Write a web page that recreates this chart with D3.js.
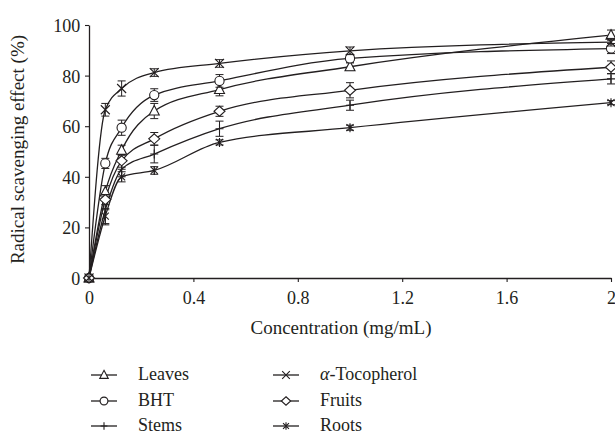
<!DOCTYPE html>
<html>
<head>
<meta charset="utf-8">
<script src="https://cdn.jsdelivr.net/npm/d3@7"></script>
<style>
  body { margin: 0; background: #fff; }
  svg text { font-family: "Liberation Serif", "DejaVu Serif", serif; fill: #231f20; }
</style>
</head>
<body>
<svg id="chart" width="615" height="436"></svg>
<script>
// concentrations (mg/mL)
const conc = [0, 0.0625, 0.125, 0.25, 0.5, 1, 2];

// scavenging effect (%) per sample
const leaves     = [0, 34.0, 50.5, 66.0, 74.5, 83.5, 96.0];
const bht        = [0, 45.3, 59.4, 72.3, 77.9, 86.8, 90.7];
const stems      = [0, 27.0, 43.0, 49.0, 59.0, 68.3, 78.7];
const tocopherol = [0, 66.5, 74.9, 81.2, 84.8, 89.8, 93.2];
const fruits     = [0, 31.0, 46.3, 55.0, 65.9, 74.2, 83.3];
const roots      = [0, 24.5, 40.0, 42.5, 53.6, 59.4, 69.3];

// error bar half-widths
const leavesErr     = [0, 2.5, 2.0, 3.0, 2.5, 1.5, 2.0];
const bhtErr        = [0, 2.0, 3.0, 2.5, 2.5, 1.5, 2.0];
const stemsErr      = [0, 6.0, 3.0, 3.5, 3.0, 2.0, 2.0];
const tocopherolErr = [0, 2.5, 3.0, 1.5, 1.5, 1.5, 1.5];
const fruitsErr     = [0, 2.0, 2.5, 2.5, 2.0, 3.0, 2.5];
const rootsErr      = [0, 3.0, 2.0, 1.5, 1.0, 1.0, 0.8];

const xTicks = [0, 0.4, 0.8, 1.2, 1.6, 2];
const xTickLabels = ["0", "0.4", "0.8", "1.2", "1.6", "2"];
const yTicks = [0, 20, 40, 60, 80, 100];

const seriesNames = ["Leaves", "BHT", "Stems", "α-Tocopherol", "Fruits", "Roots"];
const seriesMarkers = ["triangle", "circle", "plus", "cross", "diamond", "star"];
const seriesValues = [leaves, bht, stems, tocopherol, fruits, roots];
const seriesErrors = [leavesErr, bhtErr, stemsErr, tocopherolErr, fruitsErr, rootsErr];

const ink = "#231f20";
const margin = { top: 25, right: 4, bottom: 158, left: 89 };

let svg = d3.select("#chart");
let width = +svg.attr("width");
let height = +svg.attr("height");
let plotWidth = width - margin.left - margin.right;
let plotHeight = height - margin.top - margin.bottom;

let xScale = d3.scaleLinear().domain([0, 2]).range([0, plotWidth]);
let yScale = d3.scaleLinear().domain([0, 100]).range([plotHeight, 0]);

let plot = svg.append("g")
  .attr("transform", "translate(" + margin.left + "," + margin.top + ")");

// marker path builder, k scales the marker
let markerPath = (type, k = 1) => {
  let p = d3.path();
  if (type == "triangle") {
    p.moveTo(0, -5.5 * k); p.lineTo(5 * k, 4 * k); p.lineTo(-5 * k, 4 * k); p.closePath();
  } else if (type == "circle") {
    p.moveTo(4.6 * k, 0); p.arc(0, 0, 4.6 * k, 0, 2 * Math.PI);
  } else if (type == "diamond") {
    p.moveTo(0, -5 * k); p.lineTo(5.5 * k, 0); p.lineTo(0, 5 * k); p.lineTo(-5.5 * k, 0); p.closePath();
  } else if (type == "plus") {
    p.moveTo(-4 * k, 0); p.lineTo(4 * k, 0); p.moveTo(0, -4.5 * k); p.lineTo(0, 4.5 * k);
  } else if (type == "cross") {
    p.moveTo(-4.5 * k, -4.5 * k); p.lineTo(4.5 * k, 4.5 * k); p.moveTo(-4.5 * k, 4.5 * k); p.lineTo(4.5 * k, -4.5 * k);
  } else if (type == "star") {
    p.moveTo(-3.5 * k, -3.5 * k); p.lineTo(3.5 * k, 3.5 * k); p.moveTo(-3.5 * k, 3.5 * k); p.lineTo(3.5 * k, -3.5 * k);
    p.moveTo(0, -4.5 * k); p.lineTo(0, 4.5 * k);
  }
  return p.toString();
};

let isFilled = (type) => ["triangle", "circle", "diamond"].includes(type);

// axes
let xAxis = d3.axisBottom(xScale).tickValues(xTicks)
  .tickFormat((d, i) => xTickLabels[i]).tickSize(4).tickSizeOuter(0);
let yAxis = d3.axisLeft(yScale).tickValues(yTicks).tickSize(4).tickSizeOuter(0);

let gx = plot.append("g").attr("transform", "translate(0," + plotHeight + ")").call(xAxis);
let gy = plot.append("g").call(yAxis);

[gx, gy].forEach(g => {
  g.select(".domain").attr("stroke", ink).attr("stroke-width", 1.3);
  g.selectAll(".tick line").attr("stroke", ink).attr("stroke-width", 1.1);
  g.selectAll(".tick text").attr("font-size", 18)
    .attr("font-family", "Liberation Serif, DejaVu Serif, serif").attr("fill", ink);
});
gx.selectAll(".tick text").attr("dy", "1.05em");
gy.selectAll(".tick text").attr("dx", "-0.1em").attr("dy", "0.36em");

// axis titles
svg.append("text")
  .attr("x", margin.left + plotWidth / 2 - 9)
  .attr("y", 334)
  .attr("text-anchor", "middle")
  .attr("font-size", 19)
  .text("Concentration (mg/mL)");

svg.append("text")
  .attr("transform", "translate(24," + (margin.top + plotHeight / 2 - 2) + ") rotate(-90)")
  .attr("text-anchor", "middle")
  .attr("font-size", 19)
  .text("Radical scavenging effect (%)");

// lines
let line = d3.line()
  .x((d, i) => xScale(conc[i]))
  .y(d => yScale(d))
  .curve(d3.curveMonotoneX);

seriesValues.forEach((vals, s) => {
  plot.append("path")
    .datum(vals)
    .attr("d", line)
    .attr("fill", "none")
    .attr("stroke", ink)
    .attr("stroke-width", 1.3);
});

// error bars and markers
seriesValues.forEach((vals, s) => {
  let errs = seriesErrors[s];
  let g = plot.append("g");
  vals.forEach((v, i) => {
    let cx = xScale(conc[i]);
    if (errs[i] > 0) {
      let y1 = yScale(v + errs[i]);
      let y2 = yScale(v - errs[i]);
      g.append("line").attr("x1", cx).attr("x2", cx).attr("y1", y1).attr("y2", y2)
        .attr("stroke", ink).attr("stroke-width", 1);
      [y1, y2].forEach(yy => {
        g.append("line").attr("x1", cx - 4).attr("x2", cx + 4).attr("y1", yy).attr("y2", yy)
          .attr("stroke", ink).attr("stroke-width", 1);
      });
    }
    g.append("path")
      .attr("d", markerPath(seriesMarkers[s]))
      .attr("transform", "translate(" + cx + "," + yScale(v) + ")")
      .attr("fill", isFilled(seriesMarkers[s]) ? "#fff" : "none")
      .attr("stroke", ink)
      .attr("stroke-width", 1.1);
  });
});

// legend
const legendCols = [91, 273];
const legendRows = [375, 401, 426];
seriesNames.forEach((name, s) => {
  let col = Math.floor(s / 3);
  let row = s % 3;
  let lx = legendCols[col];
  let ly = legendRows[row];
  let g = svg.append("g");
  g.append("line").attr("x1", lx).attr("x2", lx + 26).attr("y1", ly).attr("y2", ly)
    .attr("stroke", ink).attr("stroke-width", 1.3);
  g.append("path")
    .attr("d", markerPath(seriesMarkers[s], 0.85))
    .attr("transform", "translate(" + (lx + 13) + "," + ly + ")")
    .attr("fill", isFilled(seriesMarkers[s]) ? "#fff" : "none")
    .attr("stroke", ink)
    .attr("stroke-width", 1.1);
  let t = g.append("text")
    .attr("x", lx + 47)
    .attr("y", ly + 5)
    .attr("font-size", 18);
  if (name.startsWith("α")) {
    t.append("tspan").attr("font-style", "italic").text("α");
    t.append("tspan").text(name.slice(1));
  } else {
    t.text(name);
  }
});
</script>
</body>
</html>
